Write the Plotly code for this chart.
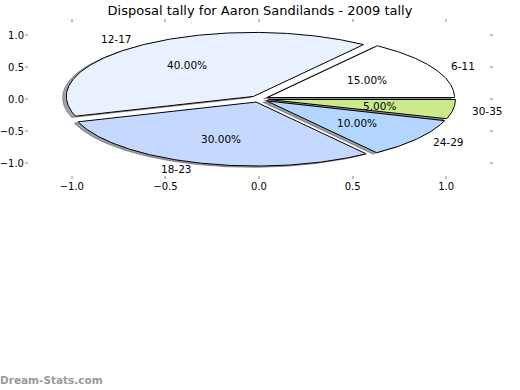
import numpy as np
import plotly.graph_objects as go

# ---- data ----
labels = ["6-11", "12-17", "18-23", "24-29", "30-35"]
values = [15, 40, 30, 10, 5]
explode = [0.05, 0.05, 0.05, 0.05, 0.05]
colors = ["#ffffff", "#eaf1fe", "#c5d9fe", "#b3d5ff", "#cdea8b"]
tick_vals = [-1.0, -0.5, 0.0, 0.5, 1.0]
tick_text = ["\u22121.0", "\u22120.5", "0.0", "0.5", "1.0"]
title = "Disposal tally for Aaron Sandilands - 2009 tally"

FONT = "DejaVu Sans"
W, H = 520, 390
ML, MR, MT, MB = 25, 27, 19, 211
PW, PH = W - ML - MR, H - MT - MB

def hex_rgb(h):
    h = h.lstrip("#")
    return [int(h[i:i + 2], 16) for i in (0, 2, 4)]

total = float(sum(values))
fracs = [v / total for v in values]

fig = go.Figure()
wedges = []
theta = 0.0
for lab, f, ex, col in zip(labels, fracs, explode, colors):
    t1 = theta
    t2 = theta + 360.0 * f
    tm = np.deg2rad((t1 + t2) / 2)
    cx, cy = ex * np.cos(tm), ex * np.sin(tm)
    ts = np.deg2rad(np.linspace(t1, t2, max(8, int((t2 - t1) * 2))))
    xs = np.concatenate([[cx], cx + np.cos(ts), [cx]])
    ys = np.concatenate([[cy], cy + np.sin(ts), [cy]])
    wedges.append((lab, f, col, xs, ys, cx, cy, tm))
    theta = t2

# shadows first (below all wedges)
for lab, f, col, xs, ys, cx, cy, tm in wedges:
    r, g, b = [int(0.3 * c) for c in hex_rgb(col)]
    sc = f"rgba({r},{g},{b},0.5)"
    fig.add_trace(go.Scatter(x=xs - 0.02, y=ys - 0.02, mode="lines", fill="toself",
                             fillcolor=sc, line=dict(color=sc, width=1),
                             hoverinfo="skip", showlegend=False))

for lab, f, col, xs, ys, cx, cy, tm in wedges:
    fig.add_trace(go.Scatter(x=xs, y=ys, mode="lines", fill="toself",
                             fillcolor=col, line=dict(color="black", width=1),
                             hoverinfo="skip", showlegend=False))

annotations = []
for lab, f, col, xs, ys, cx, cy, tm in wedges:
    lx = cx + 1.1 * np.cos(tm)
    ly = cy + 1.1 * np.sin(tm)
    annotations.append(dict(x=lx, y=ly, xref="x", yref="y", text=lab, showarrow=False,
                            xanchor="left" if lx > 0 else "right", yanchor="middle",
                            borderpad=0, borderwidth=0,
                            font=dict(family=FONT, size=10.5, color="black")))
    px = cx + 0.6 * np.cos(tm)
    py = cy + 0.6 * np.sin(tm)
    annotations.append(dict(x=px, y=py, xref="x", yref="y", text=f"{f*100:.2f}%",
                            showarrow=False, xanchor="center", yanchor="middle",
                            borderpad=0, borderwidth=0,
                            font=dict(family=FONT, size=10.5, color="black")))

annotations.append(dict(x=(0 - ML) / PW, y=(H - MB - 380) / PH, xref="paper", yref="paper",
                        text="<b>Dream-Stats.com</b>", showarrow=False,
                        xanchor="left", yanchor="middle", borderpad=0, borderwidth=0,
                        font=dict(family=FONT, size=10.5, color="#9a9a9a")))

axis_common = dict(range=[-1.25, 1.25], tickvals=tick_vals, ticktext=tick_text,
                   ticks="inside", ticklen=3, tickwidth=2, tickcolor="#c0c0c0",
                   showgrid=False, zeroline=False, showline=False, mirror="ticks",
                   automargin=False, fixedrange=True,
                   tickfont=dict(family=FONT, size=10, color="black"))

fig.update_layout(
    width=W, height=H,
    margin=dict(l=ML, r=MR, t=MT, b=MB, pad=0, autoexpand=False),
    paper_bgcolor="white", plot_bgcolor="white",
    xaxis=axis_common,
    yaxis=axis_common,
    hovermode=False,
    title=dict(text=title, x=0.5, xanchor="center", y=1 - 10 / 390, yanchor="middle",
               yref="container", font=dict(family=FONT, size=13, color="black")),
    annotations=annotations,
)

fig.write_html("out.html",
               config={"displayModeBar": False, "staticPlot": True},
               post_script="document.body.style.margin='0';document.body.style.overflow='hidden';")
